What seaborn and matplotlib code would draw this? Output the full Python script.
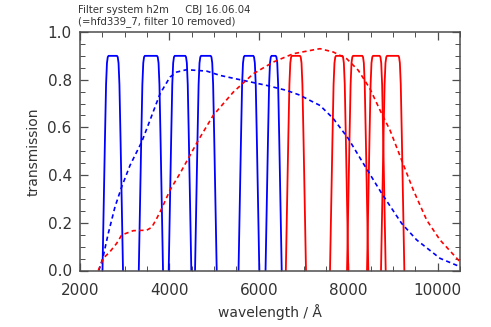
import matplotlib
matplotlib.use("Agg")
import matplotlib.pyplot as plt
import numpy as np
import seaborn as sns
from matplotlib.ticker import MultipleLocator, FormatStrFormatter

# filter passbands: wavelength (A) where each filter leaves zero
blue_lo = [2503, 3315, 3984, 4573, 5546, 6150]
blue_hi = [2962, 3857, 4490, 5058, 6011, 6512]
red_lo = [6604, 7592, 7973, 8420, 8733]
red_hi = [7055, 8002, 8449, 8838, 9255]

# shape of a filter edge (offset from base in A, transmission)
edge_offset = [0, 25, 55, 80, 100, 118, 135]
edge_trans = [0.0, 0.25, 0.55, 0.78, 0.87, 0.895, 0.9]

# dashed curves (detector response)
blue_wl = [2420, 2508, 2633, 2783, 2933, 3119, 3380, 3566, 3790, 4013, 4163, 4387,
           4834, 5132, 5653, 6176, 6624, 6921, 7145, 7369, 7666, 8002, 8337, 8749,
           9196, 9532, 10053, 10500]
blue_qe = [0.0, 0.05, 0.156, 0.267, 0.351, 0.441, 0.539, 0.63, 0.741, 0.811, 0.832, 0.842,
           0.836, 0.818, 0.797, 0.776, 0.755, 0.735, 0.713, 0.692, 0.637, 0.553, 0.449, 0.323,
           0.197, 0.128, 0.051, 0.016]
red_wl = [2409, 2521, 2671, 2821, 2933, 3192, 3492, 3604, 3716, 3828, 4013, 4237, 4461,
          4646, 4982, 5429, 5877, 6324, 6772, 7219, 7369, 7666, 7966, 8226, 8487, 8711,
          8935, 9196, 9456, 9756, 10053, 10463, 10500]
red_qe = [0.0, 0.051, 0.079, 0.114, 0.149, 0.167, 0.169, 0.181, 0.218, 0.26, 0.337, 0.407, 0.483,
          0.546, 0.651, 0.748, 0.825, 0.874, 0.909, 0.925, 0.93, 0.916, 0.888, 0.839, 0.762, 0.672,
          0.588, 0.462, 0.337, 0.211, 0.128, 0.044, 0.035]

sns.set_style("ticks")
plt.rcParams['font.family'] = ['DejaVu Sans']

fig = plt.figure(figsize=(4.91, 3.27), dpi=100)
ax = fig.add_axes([80 / 491, 1 - 270.5 / 327, 380 / 491, 238.5 / 327])


def filter_curve(lo, hi):
    off = np.array(edge_offset)
    tr = np.array(edge_trans)
    x = np.concatenate([lo + off, (hi - off)[::-1]])
    y = np.concatenate([tr, tr[::-1]])
    return x, y


for lo, hi in zip(blue_lo, blue_hi):
    x, y = filter_curve(lo, hi)
    sns.lineplot(x=x, y=y, color="#0000ff", lw=1.3, sort=False, estimator=None, ax=ax)
for lo, hi in zip(red_lo, red_hi):
    x, y = filter_curve(lo, hi)
    sns.lineplot(x=x, y=y, color="#ff0000", lw=1.3, sort=False, estimator=None, ax=ax)

sns.lineplot(x=blue_wl, y=blue_qe, color="#0000ff", lw=1.2, sort=False, estimator=None,
             ax=ax).lines[-1].set_dashes((2.6, 2.0))
sns.lineplot(x=red_wl, y=red_qe, color="#ff0000", lw=1.2, sort=False, estimator=None,
             ax=ax).lines[-1].set_dashes((2.6, 2.0))

ax.set_xlim(2000, 10500)
ax.set_ylim(0, 1.0)
ax.xaxis.set_major_locator(MultipleLocator(2000))
ax.xaxis.set_minor_locator(MultipleLocator(500))
ax.yaxis.set_major_locator(MultipleLocator(0.2))
ax.yaxis.set_minor_locator(MultipleLocator(0.05))
ax.yaxis.set_major_formatter(FormatStrFormatter('%.1f'))

for s in ax.spines.values():
    s.set_linewidth(1.1)
    s.set_color("0.3")
ax.tick_params(which="both", direction="in", top=True, right=True, color="0.3")
ax.tick_params(which="major", length=6, width=0.9, labelsize=11, labelcolor="0.2")
ax.tick_params(axis="x", which="major", pad=9)
ax.tick_params(axis="y", which="major", pad=6)
ax.tick_params(which="minor", length=3.5, width=0.7)

ax.set_xlabel("wavelength / Å", fontsize=10, color="0.2", labelpad=4)
ax.set_ylabel("transmission", fontsize=10, color="0.2", labelpad=5)

fig.text(78 / 491, 1 - 10 / 327, "Filter system h2m     CBJ 16.06.04", fontsize=7.3,
         va="center", ha="left", color="0.2")
fig.text(78 / 491, 1 - 22 / 327, "(=hfd339_7, filter 10 removed)", fontsize=7.3,
         va="center", ha="left", color="0.2")

fig.savefig("out.png", dpi=100)
